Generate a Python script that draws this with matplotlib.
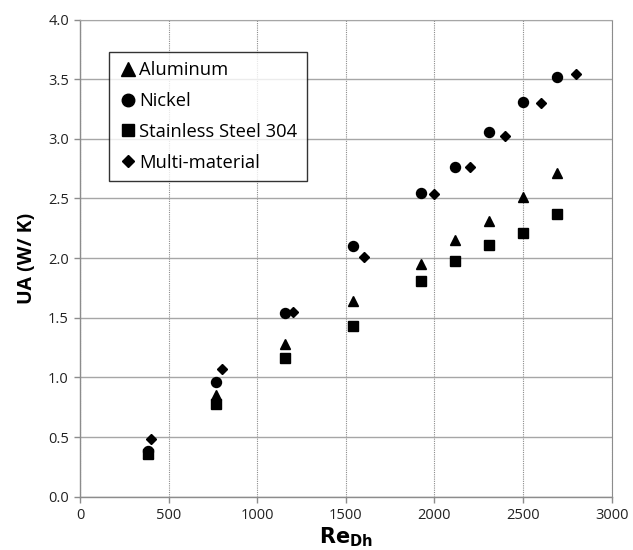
import matplotlib
matplotlib.use("Agg")
from matplotlib import pyplot as plt

plt.rcParams['font.family'] = ['Open Sans', 'DejaVu Sans']

# Re_Dh values
re_base = [385, 770, 1155, 1540, 1922, 2115, 2310, 2500, 2690]
re_multi = [400, 800, 1200, 1600, 2000, 2200, 2400, 2600, 2800]

ua_aluminum = [0.37, 0.85, 1.28, 1.64, 1.95, 2.15, 2.31, 2.51, 2.71]
ua_nickel = [0.38, 0.96, 1.54, 2.10, 2.55, 2.76, 3.06, 3.31, 3.52]
ua_steel = [0.36, 0.78, 1.16, 1.43, 1.81, 1.98, 2.11, 2.21, 2.37]
ua_multi = [0.48, 1.07, 1.55, 2.01, 2.54, 2.76, 3.02, 3.30, 3.54]

xticks = [0, 500, 1000, 1500, 2000, 2500, 3000]
yticks = [0.0, 0.5, 1.0, 1.5, 2.0, 2.5, 3.0, 3.5, 4.0]

fig = plt.figure(figsize=(6.33, 5.5), dpi=100)
ax = fig.add_axes([0.1264, 0.0969, 0.84, 0.8676])

ax.plot(re_base, ua_aluminum, linestyle='none', marker='^', markersize=7.6, color='black', label='Aluminum', zorder=3)
ax.plot(re_base, ua_nickel, linestyle='none', marker='o', markersize=7.2, color='black', label='Nickel', zorder=3)
ax.plot(re_base, ua_steel, linestyle='none', marker='s', markersize=7.0, color='black', label='Stainless Steel 304', zorder=3)
ax.plot(re_multi, ua_multi, linestyle='none', marker='D', markersize=4.8, color='black', label='Multi-material', zorder=3)

ax.set_xlim(0, 3000)
ax.set_ylim(0, 4.0)
ax.set_xticks(xticks)
ax.set_yticks(yticks)
ax.set_yticklabels([f"{v:.1f}" for v in yticks])

ax.yaxis.grid(True, color='#a6a6a6', linewidth=1.0, linestyle='-')
ax.xaxis.grid(True, color='#8c8c8c', linewidth=0.8, linestyle=(0, (1, 1)))
ax.set_axisbelow(True)

for side in ['left', 'bottom']:
    ax.spines[side].set_color('#8c8c8c')
    ax.spines[side].set_linewidth(1.0)
ax.spines['top'].set_color('#a6a6a6')
ax.spines['right'].set_color('#8c8c8c')
ax.spines['right'].set_linestyle((0, (1, 1)))
ax.spines['right'].set_linewidth(0.8)

ax.tick_params(direction='out', length=4, width=1, color='#8c8c8c', labelsize=10.5, labelcolor='#222222', pad=4)

ax.set_xlabel(r'$\mathbf{Re_{Dh}}$', fontsize=15, labelpad=2)
ax.set_ylabel('UA (W/ K)', fontsize=14, fontweight='bold', labelpad=8)

leg = ax.legend(loc='upper left', bbox_to_anchor=(0.0545, 0.932), borderaxespad=0, fontsize=13.25,
                frameon=True, fancybox=False, markerscale=1.25, handletextpad=0.05, handlelength=1.1,
                borderpad=0.5, labelspacing=0.7)
leg.get_frame().set_edgecolor('black')
leg.get_frame().set_linewidth(1.0)

fig.savefig('out.png', dpi=100)
